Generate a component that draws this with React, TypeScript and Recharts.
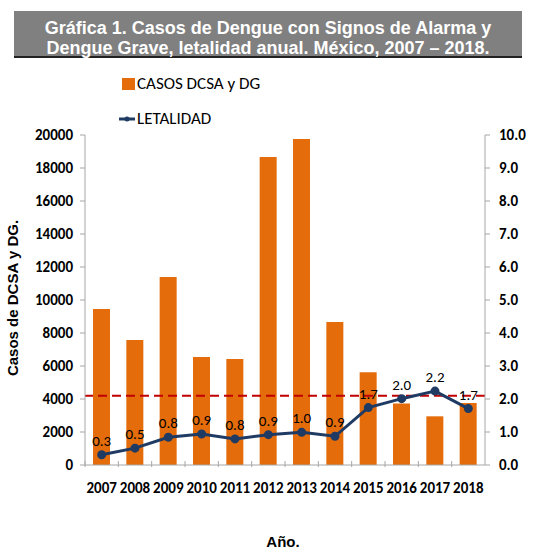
import { ComposedChart, Bar, Line, XAxis, YAxis, ReferenceLine, LabelList } from 'recharts'

const years = ['2007', '2008', '2009', '2010', '2011', '2012', '2013', '2014', '2015', '2016', '2017', '2018']
const casos = [9450, 7570, 11390, 6540, 6420, 18670, 19760, 8670, 5620, 3720, 2950, 3760]
const letalidad = [0.31, 0.51, 0.84, 0.94, 0.79, 0.92, 0.99, 0.87, 1.74, 2.01, 2.24, 1.71]
const leftTicks = [0, 2000, 4000, 6000, 8000, 10000, 12000, 14000, 16000, 18000, 20000]
const rightTicks = [0, 1, 2, 3, 4, 5, 6, 7, 8, 9, 10]
const umbral = 2.1

const data = years.map((year, i) => ({ year, casos: casos[i], letalidad: letalidad[i] }))

const ORANGE = '#e46c0a'
const NAVY = '#1f3b63'
const AXIS = '#a6a6a6'
const NARROW = "Carlito, 'Liberation Sans Narrow', 'Arial Narrow', 'Liberation Sans', sans-serif"
const ARIAL = "'Liberation Sans', Arial, sans-serif"

function YearTick({ x, y, payload }: any) {
  const half = payload.offset ?? 0
  return (
    <g>
      <line x1={x - half} x2={x - half} y1={y - 12} y2={y - 6} stroke={AXIS} />
      <text x={x} y={y + 20} textAnchor="middle" fontFamily={NARROW} fontWeight="bold" fontSize={15} fill="#000">
        {payload.value}
      </text>
    </g>
  )
}

export default function App() {
  return (
    <div style={{ position: 'absolute', left: 0, top: 0, width: 541, height: 557, background: '#fff' }}>
      <div
        style={{
          position: 'absolute',
          left: 14,
          top: 11,
          width: 508,
          height: 47,
          background: '#808080',
          borderBottom: '2px solid #222',
          color: '#fff',
          fontFamily: ARIAL,
          fontWeight: 'bold',
          fontSize: 18,
          lineHeight: '20px',
          textAlign: 'center',
          paddingTop: 7,
          boxSizing: 'border-box',
        }}
      >
        Gráfica 1. Casos de Dengue con Signos de Alarma y
        <br />
        Dengue Grave, letalidad anual. México, 2007 – 2018.
      </div>

      <div style={{ position: 'absolute', left: 122, top: 73, display: 'flex', alignItems: 'center', fontFamily: NARROW, fontSize: 17 }}>
        <span style={{ width: 13, height: 12, background: ORANGE, marginRight: 2 }} />
        CASOS DCSA y DG
      </div>
      <div style={{ position: 'absolute', left: 119, top: 108, display: 'flex', alignItems: 'center', fontFamily: NARROW, fontSize: 17 }}>
        <svg width={17} height={8} style={{ marginRight: 1 }}>
          <line x1={0} x2={16} y1={4} y2={4} stroke={NAVY} strokeWidth={3} />
          <circle cx={8} cy={4} r={2.5} fill={NAVY} />
        </svg>
        LETALIDAD
      </div>

      <div
        style={{
          position: 'absolute',
          left: 12,
          top: 298,
          transform: 'translate(-50%, -50%) rotate(-90deg)',
          whiteSpace: 'nowrap',
          fontFamily: ARIAL,
          fontWeight: 'bold',
          fontSize: 15,
        }}
      >
        Casos de DCSA y DG.
      </div>
      <div
        style={{
          position: 'absolute',
          left: 283,
          top: 541,
          transform: 'translate(-50%, -50%)',
          fontFamily: ARIAL,
          fontWeight: 'bold',
          fontSize: 15,
        }}
      >
        Año.
      </div>

      <ComposedChart
        width={541}
        height={557}
        data={data}
        margin={{ top: 135, right: 6, bottom: 62, left: 25 }}
        barCategoryGap="24%"
        style={{ position: 'absolute', left: 0, top: 0 }}
      >
        <XAxis
          dataKey="year"
          xAxisId={0}
          height={30}
          axisLine={{ stroke: AXIS }}
          tickLine={false}
          tick={<YearTick />}
          interval={0}
        />
        <YAxis
          yAxisId="left"
          orientation="left"
          width={60}
          domain={[0, 20000]}
          ticks={leftTicks}
          interval={0}
          axisLine={{ stroke: AXIS }}
          tickLine={{ stroke: AXIS }}
          tickSize={5}
          tickMargin={7}
          tick={{ fontFamily: NARROW, fontWeight: 'bold', fontSize: 15, fill: '#000' }}
        />
        <YAxis
          yAxisId="right"
          orientation="right"
          width={50}
          domain={[0, 10]}
          ticks={rightTicks}
          interval={0}
          tickFormatter={(v: number) => v.toFixed(1)}
          axisLine={{ stroke: AXIS }}
          tickLine={{ stroke: AXIS }}
          tickSize={5}
          tickMargin={9}
          tick={{ fontFamily: NARROW, fontWeight: 'bold', fontSize: 15, fill: '#000' }}
        />
        <Bar yAxisId="left" dataKey="casos" fill={ORANGE} isAnimationActive={false} />
        <ReferenceLine yAxisId="right" y={umbral} stroke="#c00000" strokeWidth={2} strokeDasharray="9 5" />
        <Line
          yAxisId="right"
          dataKey="letalidad"
          stroke={NAVY}
          strokeWidth={3}
          dot={{ r: 3, fill: NAVY, stroke: NAVY }}
          isAnimationActive={false}
        >
          <LabelList
            dataKey="letalidad"
            position="top"
            offset={9}
            formatter={(v: any) => Number(v).toFixed(1)}
            style={{ fontFamily: NARROW, fontSize: 15, fill: '#000' }}
          />
        </Line>
      </ComposedChart>
    </div>
  )
}
